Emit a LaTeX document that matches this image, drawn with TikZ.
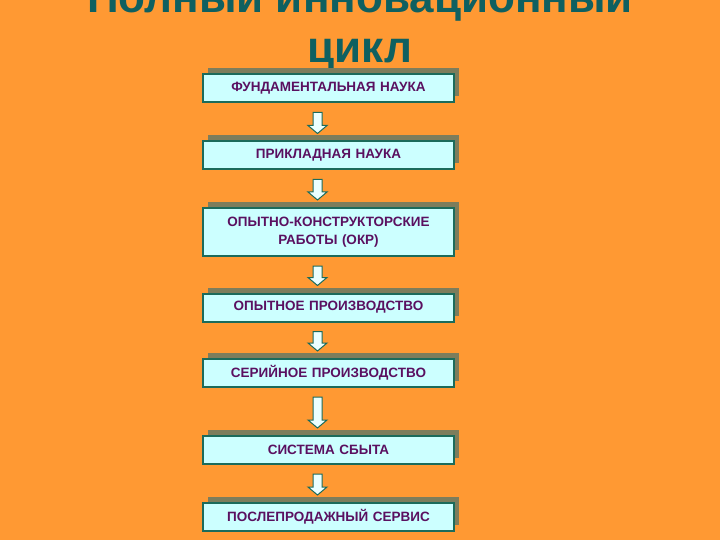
\documentclass[tikz,border=0pt]{standalone}
\usepackage{fontspec}
\setmainfont{Liberation Sans}
\usetikzlibrary{calc,shadows}
\definecolor{bgorange}{HTML}{FF9933}
\definecolor{boxfill}{HTML}{CCFFFF}
\definecolor{boxline}{HTML}{1B6B5B}
\definecolor{boxshadow}{HTML}{7D7D5C}
\definecolor{stagetext}{HTML}{5A1060}
\definecolor{titleteal}{HTML}{0F6060}
\tikzset{
  stage/.style={draw=boxline,line width=2pt,fill=boxfill,
    minimum width=251pt,minimum height=28pt,text width=240pt,align=center,
    text=stagetext,font=\bfseries\fontsize{13.5}{18}\selectfont,
    drop shadow={shadow xshift=5pt,shadow yshift=6pt,fill=boxshadow,opacity=1}},
  flow/.style={draw=boxline,line width=1pt,fill=boxfill!40!white},
  heading/.style={text=titleteal,font=\bfseries\fontsize{44}{50}\selectfont,inner sep=0pt}
}
\begin{document}
\begin{tikzpicture}[x=1pt,y=-1pt]
\fill[bgorange](0,0) rectangle (720,540);
\useasboundingbox (0,0) rectangle (720,540);
%title
\node[heading,anchor=base](title1)at(360,13){Полный инновационный};
\node[heading,anchor=base](title2)at(360,63){цикл};
%stages
\node[stage](b1)at(328.5,88.5){ФУНДАМЕНТАЛЬНАЯ НАУКА};
\node[stage](b2)at(328.5,155.5){ПРИКЛАДНАЯ НАУКА};
\node[stage,minimum height=48pt](b3)at(328.5,232){ОПЫТНО-КОНСТРУКТОРСКИЕ\\РАБОТЫ (ОКР)};
\node[stage](b4)at(328.5,307.5){ОПЫТНОЕ ПРОИЗВОДСТВО};
\node[stage](b5)at(328.5,373){СЕРИЙНОЕ ПРОИЗВОДСТВО};
\node[stage](b6)at(328.5,450){СИСТЕМА СБЫТА};
\node[stage](b7)at(328.5,517){ПОСЛЕПРОДАЖНЫЙ СЕРВИС};
%arrows
\foreach \a/\b in {b1/b2,b2/b3,b3/b4,b4/b5,b5/b6,b6/b7}{
\path($(\a.south)+(-11,9)$)coordinate(top)($(\b.north)+(-11,-7)$)coordinate(tip);
\filldraw[flow]($(top)+(-4.5,0)$)--($(tip)+(-4.5,-8)$)--($(tip)+(-9.5,-8)$)--(tip)
  --($(tip)+(9.5,-8)$)--($(tip)+(4.5,-8)$)--($(top)+(4.5,0)$)--cycle;
}
\end{tikzpicture}
\end{document}
